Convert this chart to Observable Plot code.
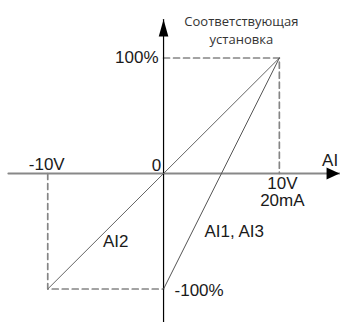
<!DOCTYPE html>
<html>
<head>
<meta charset="utf-8">
<script src="https://cdn.jsdelivr.net/npm/d3@7"></script>
<script src="https://cdn.jsdelivr.net/npm/@observablehq/plot@0.6"></script>
<style>
  html, body { margin: 0; padding: 0; background: #fff; }
  svg { display: block; }
</style>
</head>
<body>
<div id="chart"></div>
<script>
// ---- data ----
const inputV = [-10, 0, 10];               // input voltage (V)
const setting = [-100, 0, 100];            // corresponding setting (%)
const ai13X = [0, 10];                     // AI1, AI3 curve: input
const ai13Y = [-100, 100];                 //                 setting
const ai2X = [-10, 10];                    // AI2 curve: input
const ai2Y = [-100, 100];                  //            setting
const xTickLabels = ["-10V", "0", "10V", "20mA"];
const yTickLabels = ["100%", "-100%"];
const seriesLabels = ["AI1, AI3", "AI2"];
const yTitle = "Соответствующая\nустановка";
const xTitle = "AI";
const xAxisExtent = [-13.4, 15.2];         // horizontal axis (V units)
const yAxisExtent = [-129, 133.3];         // vertical axis (% units)

// ---- derived tables ----
const ai13 = ai13X.map((x, i) => ({x, y: ai13Y[i]}));
const ai2 = ai2X.map((x, i) => ({x, y: ai2Y[i]}));
const guideTop = [{x: 0, y: setting[2]}, {x: inputV[2], y: setting[2]}, {x: inputV[2], y: 0}];
const guideBot = [{x: inputV[0], y: 0}, {x: inputV[0], y: setting[0]}, {x: 0, y: setting[0]}];
const hAxis = xAxisExtent.map(x => ({x, y: 0}));
const vAxis = yAxisExtent.map(y => ({x: 0, y}));

// custom arrowhead symbols, origin at the tip
const arrowRight = {draw(ctx) { ctx.moveTo(0, 0); ctx.lineTo(-13, -6); ctx.lineTo(-13, 6); ctx.closePath(); }};
const arrowUp = {draw(ctx) { ctx.moveTo(0, 0); ctx.lineTo(-4.8, 17); ctx.lineTo(4.8, 17); ctx.closePath(); }};

const font = "'Liberation Sans', Arial, sans-serif";
const txt = {fontFamily: font, fontSize: 17, fill: "#1a1a1a", lineAnchor: "bottom"};

const chart = Plot.plot({
  width: 340,
  height: 322,
  margin: 0,
  x: {domain: [-14.08, 15.28], axis: null},
  y: {domain: [-129, 149.8], axis: null},
  marks: [
    Plot.line(guideTop, {x: "x", y: "y", stroke: "#858585", strokeWidth: 1.7, strokeDasharray: "6,4"}),
    Plot.line(guideBot, {x: "x", y: "y", stroke: "#858585", strokeWidth: 1.7, strokeDasharray: "6,4"}),
    Plot.line(hAxis, {x: "x", y: "y", stroke: "#888", strokeWidth: 2}),
    Plot.line(vAxis, {x: "x", y: "y", stroke: "#000", strokeWidth: 1.2}),
    Plot.line(ai2, {x: "x", y: "y", stroke: "#666", strokeWidth: 1}),
    Plot.line(ai13, {x: "x", y: "y", stroke: "#555", strokeWidth: 1}),
    Plot.dot([{x: xAxisExtent[1], y: 0}], {x: "x", y: "y", symbol: arrowRight, r: 5, fill: "#000", stroke: "none"}),
    Plot.dot([{x: 0, y: yAxisExtent[1]}], {x: "x", y: "y", symbol: arrowUp, r: 5, fill: "#000", stroke: "none"}),
    // tick labels
    Plot.text([yTickLabels[0]], {x: () => 0, y: () => setting[2], text: d => d, textAnchor: "end", dx: -5, dy: 4.5, ...txt}),
    Plot.text([yTickLabels[1]], {x: () => 0, y: () => setting[0], text: d => d, textAnchor: "start", dx: 11, dy: 6.5, ...txt}),
    Plot.text([xTickLabels[0]], {x: () => inputV[0], y: () => 0, text: d => d, dx: -1, dy: -4, ...txt}),
    Plot.text([xTickLabels[1]], {x: () => inputV[1], y: () => 0, text: d => d, dx: -7, dy: -3, ...txt}),
    Plot.text([xTickLabels[2]], {x: () => inputV[2], y: () => 0, text: d => d, dx: 3, dy: 15, ...txt}),
    Plot.text([xTickLabels[3]], {x: () => inputV[2], y: () => 0, text: d => d, dx: 3, dy: 32.5, ...txt}),
    Plot.text([xTitle], {x: () => xAxisExtent[1], y: () => 0, text: d => d, dx: -9.5, dy: -8, ...txt}),
    // series labels
    Plot.text([seriesLabels[0]], {x: () => 2.5, y: () => -50, text: d => d, textAnchor: "start", dx: 12, dy: 6, ...txt}),
    Plot.text([seriesLabels[1]], {x: () => -5, y: () => -50, text: d => d, dx: 10, dy: 16, ...txt}),
    // y title
    Plot.text([yTitle], {x: () => inputV[2], y: () => setting[2], text: d => d, dx: -38, dy: -14.5, lineHeight: 1.35,
      fontFamily: "'Open Sans', sans-serif", fontSize: 13, fill: "#333", lineAnchor: "bottom"})
  ]
});
document.getElementById("chart").appendChild(chart);
</script>
</body>
</html>
